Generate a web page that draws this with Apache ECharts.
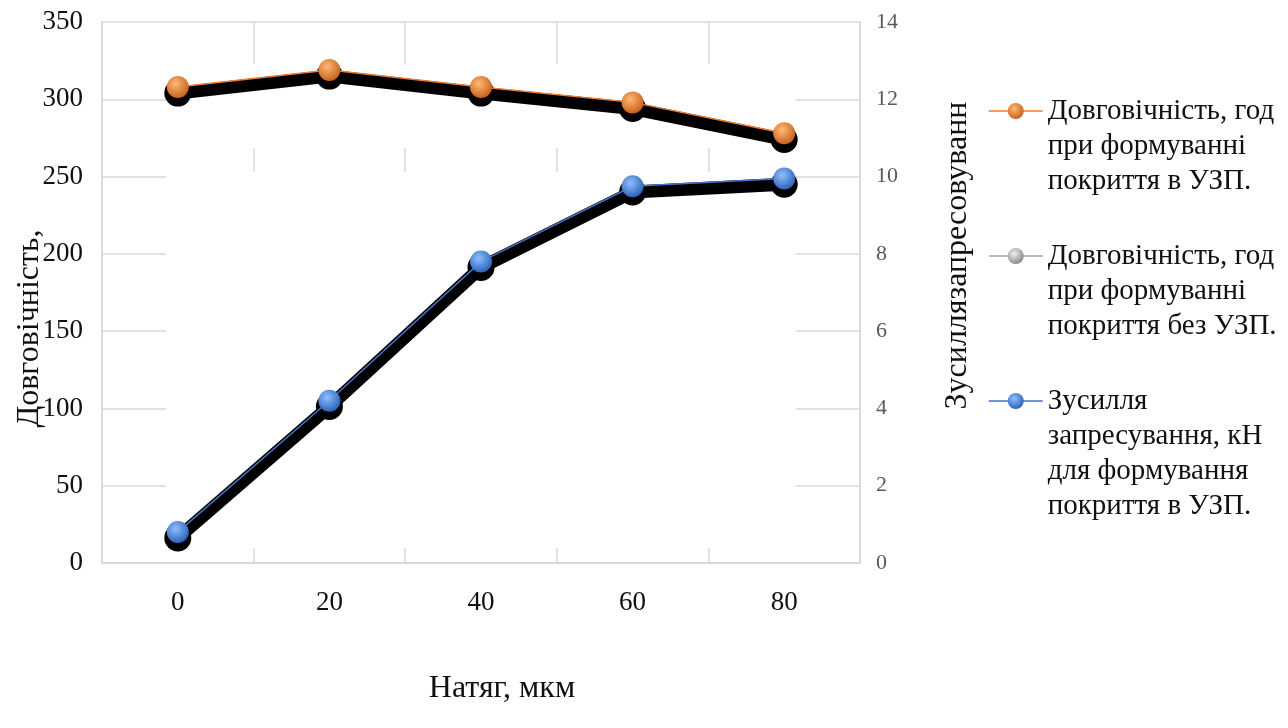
<!DOCTYPE html>
<html>
<head>
<meta charset="utf-8">
<script src="https://cdn.jsdelivr.net/npm/echarts@6/dist/echarts.min.js"></script>
<style>
  html, body { margin: 0; padding: 0; background: #fff; }
  #chart { width: 1288px; height: 728px; }
</style>
</head>
<body>
<div id="chart"></div>
<script>
// дані з графіка
const categories = ['0', '20', '40', '60', '80']
const lifeWith = [308, 319, 308, 298, 278]       // Довговічність, год (УЗП)
const lifeWithout = [304, 315, 304, 294, 274]    // Довговічність, год (без УЗП)
const force = [0.8, 4.2, 7.8, 9.75, 9.95]        // Зусилля запресування, кН
const forceShadow = [0.65, 4.05, 7.65, 9.6, 9.8]

const nameA = 'Довговічність, год\nпри формуванні\nпокриття в УЗП.'
const nameB = 'Довговічність, год\nпри формуванні\nпокриття без УЗП.'
const nameC = 'Зусилля\nзапресування, кН\nдля формування\nпокриття в УЗП.'

const FONT = '"Liberation Serif", "DejaVu Serif", serif'
const LH = 35
const GRID_COLOR = '#d9d9d9'

function sphere(light, dark) {
  return {
    type: 'radial', x: 0.4, y: 0.35, r: 0.75,
    colorStops: [{ offset: 0, color: light }, { offset: 1, color: dark }],
  }
}

const orangeBall = sphere('#ffb877', '#c0560f')
const grayBall = sphere('#f0f0f0', '#7a7a7a')
const blueBall = sphere('#8fc0ff', '#1f55b0')

// легенда: іконка навпроти першого рядка тексту
function legendBox(name, lines, firstLineY, icon) {
  const pad = '\n'.repeat(lines - 1)
  return {
    orient: 'vertical',
    left: 983,
    top: firstLineY - ((2 * lines - 1) * LH) / 2,
    itemWidth: 54,
    itemHeight: 20,
    formatter: n => pad + n,
    textStyle: { fontFamily: FONT, fontSize: 29, color: '#111', lineHeight: LH },
    data: [Object.assign({ name: name }, icon)],
  }
}

const chart = echarts.init(document.getElementById('chart'))
chart.setOption({
  animation: false,
  backgroundColor: '#fff',
  legend: [
    legendBox(nameA, 3, 106, { itemStyle: { color: orangeBall }, lineStyle: { color: '#ed7d31', width: 1.5 } }),
    legendBox(nameB, 3, 251, { itemStyle: { color: grayBall }, lineStyle: { color: '#a5a5a5', width: 1.5 } }),
    legendBox(nameC, 4, 396, { itemStyle: { color: blueBall }, lineStyle: { color: '#4472c4', width: 1.5 } }),
  ],
  grid: { left: 102, right: 428, top: 22, bottom: 165, outerBoundsMode: 'none' },
  // біла пляма, що ховає частину сітки (як на оригіналі)
  graphic: [
    { type: 'rect', z: 1, silent: true, shape: { x: 166, y: 64, width: 630, height: 84 }, style: { fill: '#fff' } },
    { type: 'rect', z: 1, silent: true, shape: { x: 166, y: 172, width: 630, height: 376 }, style: { fill: '#fff' } },
  ],
  xAxis: {
    type: 'category',
    data: categories,
    boundaryGap: true,
    name: 'Натяг, мкм',
    nameLocation: 'middle',
    nameGap: 110,
    nameTextStyle: { fontFamily: FONT, fontSize: 32, color: '#111', padding: [0, 0, 0, 42] },
    axisLine: { lineStyle: { color: GRID_COLOR, width: 2 } },
    axisTick: { show: false },
    axisLabel: { fontFamily: FONT, fontSize: 27, color: '#111', margin: 26 },
    splitLine: { show: true, lineStyle: { color: GRID_COLOR, width: 1.5 } },
  },
  yAxis: [
    {
      type: 'value',
      min: 0, max: 350, interval: 50,
      name: 'Довговічність,',
      nameLocation: 'middle',
      nameRotate: 90,
      nameGap: 56,
      nameMoveOverlap: false,
      nameTextStyle: { fontFamily: FONT, fontSize: 32, color: '#111', padding: [0, 72, 0, 0] },
      axisLine: { show: true, lineStyle: { color: GRID_COLOR, width: 1.5 } },
      axisTick: { show: false },
      axisLabel: { fontFamily: FONT, fontSize: 27, color: '#111', margin: 19 },
      splitLine: { lineStyle: { color: GRID_COLOR, width: 1.5 } },
    },
    {
      type: 'value',
      min: 0, max: 14, interval: 2,
      position: 'right',
      name: 'Зусиллязапресовуванн',
      nameLocation: 'middle',
      nameRotate: 90,
      nameGap: 82,
      nameTextStyle: { fontFamily: FONT, fontSize: 32, color: '#111', padding: [0, 0, 0, 74] },
      axisLine: { show: true, lineStyle: { color: GRID_COLOR, width: 1.5 } },
      axisTick: { show: false },
      axisLabel: { fontFamily: FONT, fontSize: 22, color: '#595959', margin: 16 },
      splitLine: { show: false },
    },
  ],
  series: [
    {
      name: nameB,
      type: 'line',
      data: lifeWithout,
      z: 2,
      symbol: 'circle',
      symbolSize: 27,
      itemStyle: { color: '#000' },
      lineStyle: { color: '#000', width: 13 },
    },
    {
      name: 'shadow',
      type: 'line',
      yAxisIndex: 1,
      data: forceShadow,
      z: 2,
      symbol: 'circle',
      symbolSize: 27,
      itemStyle: { color: '#000' },
      lineStyle: { color: '#000', width: 13 },
    },
    {
      name: nameA,
      type: 'line',
      data: lifeWith,
      z: 3,
      symbol: 'circle',
      symbolSize: 22,
      itemStyle: { color: orangeBall },
      lineStyle: { color: '#ed7d31', width: 1.5 },
    },
    {
      name: nameC,
      type: 'line',
      yAxisIndex: 1,
      data: force,
      z: 3,
      symbol: 'circle',
      symbolSize: 22,
      itemStyle: { color: blueBall },
      lineStyle: { color: '#4472c4', width: 1.5 },
    },
  ],
})
</script>
</body>
</html>
